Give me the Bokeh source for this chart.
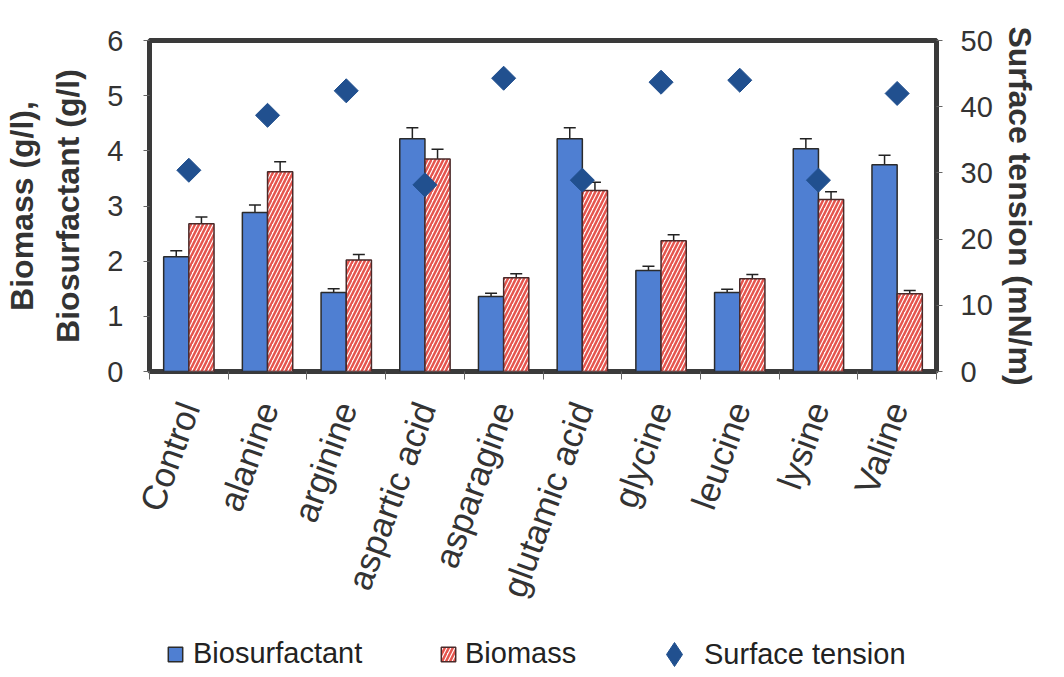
import math
from bokeh.plotting import figure
from bokeh.layouts import column
from bokeh.models import (ColumnDataSource, Range1d, LinearAxis, FixedTicker,
                          Whisker, TeeHead, Legend, LegendItem)
from bokeh.embed import file_html
from bokeh.resources import INLINE

categories = ["Control", "alanine", "arginine", "aspartic acid", "asparagine",
              "glutamic acid", "glycine", "leucine", "lysine", "Valine"]
biosurfactant = [2.08, 2.88, 1.43, 4.22, 1.36, 4.22, 1.83, 1.43, 4.04, 3.75]
biosurfactant_err = [0.11, 0.14, 0.07, 0.20, 0.06, 0.20, 0.08, 0.06, 0.18, 0.17]
biomass = [2.68, 3.62, 2.02, 3.85, 1.70, 3.28, 2.37, 1.68, 3.12, 1.41]
biomass_err = [0.12, 0.18, 0.10, 0.18, 0.07, 0.15, 0.11, 0.08, 0.14, 0.06]
surface_tension = [30.4, 38.7, 42.4, 28.2, 44.3, 28.9, 43.7, 44.0, 28.9, 42.0]
series_names = ["Biosurfactant", "Biomass", "Surface tension"]

FONT = "Liberation Sans"
DARK = "#333333"
BLUE = "#4f7fd2"
HATCH = "#e5554e"
NAVY = "#21508f"

n = len(categories)
centers = [i + 0.5 for i in range(n)]
src = ColumnDataSource(dict(
    xc=centers,
    xb=[c - 0.16 for c in centers],
    xm=[c + 0.16 for c in centers],
    bs=biosurfactant,
    bs_lo=[v - e for v, e in zip(biosurfactant, biosurfactant_err)],
    bs_hi=[v + e for v, e in zip(biosurfactant, biosurfactant_err)],
    bm=biomass,
    bm_lo=[v - e for v, e in zip(biomass, biomass_err)],
    bm_hi=[v + e for v, e in zip(biomass, biomass_err)],
    st=surface_tension,
))

p = figure(frame_width=787, frame_height=331, x_range=Range1d(0, n), y_range=Range1d(0, 6),
           output_backend="svg", toolbar_location=None,
           min_border_left=141, min_border_right=5,
           min_border_top=40, min_border_bottom=251)
p.extra_y_ranges = {"st": Range1d(0, 50)}
p.grid.visible = False
p.background_fill_color = "white"
p.border_fill_color = "white"
p.outline_line_color = "#3a3a3a"
p.outline_line_width = 5

# x axis
xa = p.xaxis[0]
xa.ticker = FixedTicker(ticks=centers, minor_ticks=list(range(n + 1)))
xa.major_label_overrides = {c: cat for c, cat in zip(centers, categories)}
xa.major_label_orientation = math.radians(70)
xa.major_tick_line_color = None
xa.minor_tick_line_color = "#666666"
xa.minor_tick_out = 8
xa.minor_tick_in = 0
xa.axis_line_color = None
xa.major_label_text_font = FONT
xa.major_label_text_font_size = "35px"
xa.major_label_text_color = DARK
xa.major_label_standoff = 24

# left axis
ya = p.yaxis[0]
ya.ticker = FixedTicker(ticks=[0, 1, 2, 3, 4, 5, 6])
ya.axis_line_color = None
ya.major_tick_line_color = "#666666"
ya.major_tick_out = 6
ya.major_tick_in = 0
ya.minor_tick_line_color = None
ya.major_label_text_font = FONT
ya.major_label_text_font_size = "29px"
ya.major_label_text_color = DARK
ya.major_label_standoff = 20
ya.axis_label = "Biomass (g/l),\nBiosurfactant (g/l)"
ya.axis_label_text_font = FONT
ya.axis_label_text_font_size = "32px"
ya.axis_label_text_font_style = "bold"
ya.axis_label_text_color = DARK
ya.axis_label_text_line_height = 1.3
ya.axis_label_standoff = 18

# right axis
ra = LinearAxis(y_range_name="st", ticker=FixedTicker(ticks=[0, 10, 20, 30, 40, 50]))
ra.axis_line_color = None
ra.major_tick_line_color = "#666666"
ra.major_tick_out = 6
ra.major_tick_in = 0
ra.minor_tick_line_color = None
ra.major_label_text_font = FONT
ra.major_label_text_font_size = "29px"
ra.major_label_text_color = DARK
ra.major_label_standoff = 18
ra.axis_label = "Surface tension (mN/m)"
ra.axis_label_text_font = FONT
ra.axis_label_text_font_size = "32px"
ra.axis_label_text_font_style = "bold"
ra.axis_label_text_color = DARK
ra.axis_label_standoff = 6
p.add_layout(ra, "right")

bs_style = dict(fill_color=BLUE, line_color="#2b2b2b", line_width=1.5)
bm_style = dict(fill_color="white", hatch_pattern="/", hatch_color=HATCH,
                hatch_weight=2.5, hatch_scale=8, line_color="#4a2a2a", line_width=1.5)

# bars
p.vbar(x="xb", top="bs", width=0.32, source=src, **bs_style)
p.vbar(x="xm", top="bm", width=0.32, source=src, **bm_style)

for base, lo, hi in (("xb", "bs_lo", "bs_hi"), ("xm", "bm_lo", "bm_hi")):
    w = Whisker(source=src, base=base, lower=lo, upper=hi, dimension="height",
                line_color="#222222", line_width=1.5,
                upper_head=TeeHead(size=12, line_color="#222222", line_width=1.5),
                lower_head=TeeHead(size=12, line_color="#222222", line_width=1.5))
    p.add_layout(w)

p.scatter(x="xc", y="st", y_range_name="st", source=src, marker="square",
          angle=math.pi / 4, size=17, fill_color=NAVY, line_color=NAVY)

# legend strip below the chart (its renderers hold no visible data)
lg = figure(frame_width=1048, frame_height=47, x_range=Range1d(0, 1), y_range=Range1d(0, 1),
            output_backend="svg", toolbar_location=None,
            x_axis_location=None, y_axis_location=None,
            min_border_left=0, min_border_right=0, min_border_top=0, min_border_bottom=0)
lg.grid.visible = False
lg.outline_line_color = None
lg.background_fill_color = "white"
lg.border_fill_color = "white"

nan = float("nan")
dummy = ColumnDataSource(dict(x=[nan], top=[nan], y=[nan]))
l_bs = lg.vbar(x="x", top="top", width=0.1, source=dummy, **bs_style)
l_bm = lg.vbar(x="x", top="top", width=0.1, source=dummy, **bm_style)
l_st = lg.scatter(x="x", y="y", source=dummy, marker="diamond", size=20,
                  fill_color=NAVY, line_color=NAVY)

common = dict(orientation="horizontal", border_line_color=None,
              background_fill_alpha=0, label_text_font=FONT,
              label_text_font_size="29px", label_text_color="#222222",
              padding=0, margin=0, spacing=0)
lg.add_layout(Legend(items=[LegendItem(label=series_names[0], renderers=[l_bs], index=0)],
                     location=(166, -1), glyph_width=18, glyph_height=18,
                     label_standoff=9, **common))
lg.add_layout(Legend(items=[LegendItem(label=series_names[1], renderers=[l_bm], index=0)],
                     location=(439, -1), glyph_width=18, glyph_height=18,
                     label_standoff=8, **common))
lg.add_layout(Legend(items=[LegendItem(label=series_names[2], renderers=[l_st], index=0)],
                     location=(644, -15), glyph_width=60, glyph_height=60,
                     label_standoff=-15, **common))

layout = column(p, lg, spacing=0)
open("out.html", "w").write(file_html(layout, INLINE))
